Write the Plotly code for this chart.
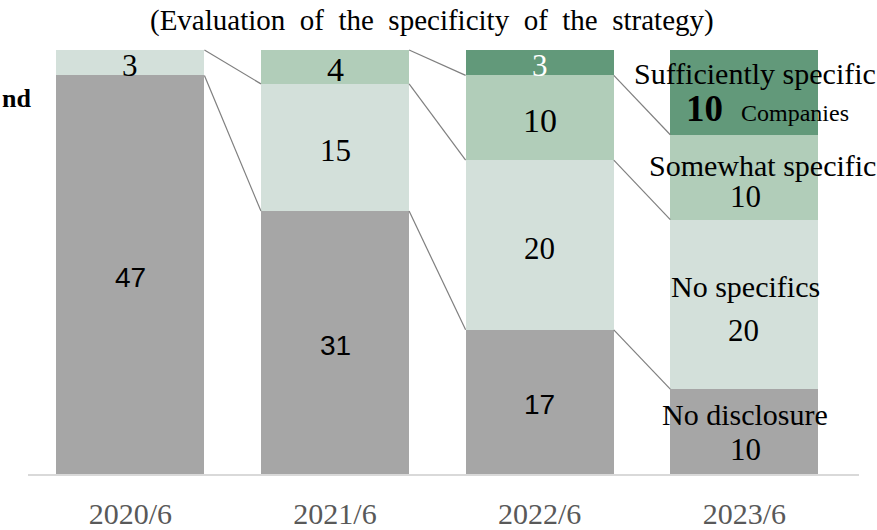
import plotly.graph_objects as go

categories = ["2020/6", "2021/6", "2022/6", "2023/6"]
series_names = ["No disclosure", "No specifics", "Somewhat specific", "Sufficiently specific"]
no_disclosure = [47, 31, 17, 10]
no_specifics = [3, 15, 20, 20]
somewhat_specific = [0, 4, 10, 10]
sufficiently_specific = [0, 0, 3, 10]
unit_text = "Companies"
title_text = "(Evaluation\u00a0 of\u00a0 the\u00a0 specificity\u00a0 of\u00a0 the\u00a0 strategy)"
side_text = "nd"

series_values = [no_disclosure, no_specifics, somewhat_specific, sufficiently_specific]
colors = ["#a6a6a6", "#d3e0da", "#b1cdb9", "#62997a"]
label_colors = ["black", "black", "black", "white"]
SERIF = "Liberation Serif, Times New Roman, serif"
SANS = "Liberation Sans, Arial, sans-serif"
BW = 0.724

x = list(range(len(categories)))
fig = go.Figure()
for name, vals, col in zip(series_names, series_values, colors):
    fig.add_trace(go.Bar(x=x, y=vals, name=name, marker=dict(color=col, line=dict(width=0)),
                         width=BW, hoverinfo="y+name"))

# cumulative tops
cum = []
run = [0] * len(categories)
for vals in series_values:
    run = [r + v for r, v in zip(run, vals)]
    cum.append(list(run))

# series connector lines
for s in range(3):
    vals = series_values[s]
    for i in range(len(categories) - 1):
        if vals[i] > 0 and vals[i + 1] > 0:
            fig.add_trace(go.Scatter(x=[i + BW / 2, i + 1 - BW / 2], y=[cum[s][i], cum[s][i + 1]],
                                     mode="lines", line=dict(color="#7f7f7f", width=1.2),
                                     hoverinfo="skip", showlegend=False))

annotations = []
last = len(categories) - 1
for s, vals in enumerate(series_values):
    for i, v in enumerate(vals):
        if v <= 0 or i == last:
            continue
        mid = cum[s][i] - v / 2
        if s == 0:
            f = dict(family=SANS, size=28, color=label_colors[s])
        else:
            big = (s == 2)
            f = dict(family=SERIF, size=34 if big else 31, color=label_colors[s])
        annotations.append(dict(x=i, y=mid, text=str(v), showarrow=False, yshift=-3, font=f))

# last bar: names and values, with per-label pixel offsets (xshift, yshift)
name_off = [(1, 17), (1, 18), (18, 12), (11, 19)]
val_off = [(1, -18), (-1, -26), (1, -19), (23, -16)]
for s in range(4):
    v = series_values[s][last]
    mid = cum[s][last] - v / 2
    annotations.append(dict(x=last, y=mid, text=series_names[s], showarrow=False,
                            xshift=name_off[s][0], yshift=name_off[s][1],
                            font=dict(family=SERIF, size=30, color="black")))
    if s == 3:
        vt = f"<b style='font-size:37px'>{v}</b>\u00a0\u00a0 {unit_text}"
        vf = dict(family=SERIF, size=24, color="black")
    else:
        vt = str(v)
        vf = dict(family=SERIF, size=31, color="black")
    annotations.append(dict(x=last, y=mid, text=vt, showarrow=False,
                            xshift=val_off[s][0], yshift=val_off[s][1], font=vf))

annotations.append(dict(xref="paper", yref="paper", x=0.0, y=0.852, xanchor="left",
                        yanchor="middle", text=f"<b>{side_text}</b>", showarrow=False,
                        xshift=-28, font=dict(family=SERIF, size=26, color="black")))
annotations.append(dict(xref="paper", yref="paper", x=0.486, y=1.029, xanchor="center",
                        yanchor="middle", text=title_text, showarrow=False,
                        font=dict(family=SERIF, size=29, color="black")))

fig.update_layout(
    barmode="stack",
    width=877, height=530,
    margin=dict(l=28, r=18, t=33, b=56, autoexpand=False),
    paper_bgcolor="white", plot_bgcolor="white",
    showlegend=False,
    annotations=annotations,
    xaxis=dict(range=[-0.5, 3.56], tickvals=x, ticktext=categories, showgrid=False,
               zeroline=False, showline=True, linecolor="#d9d9d9", linewidth=2,
               ticks="", ticklabelstandoff=12, automargin=False,
               tickfont=dict(family=SERIF, size=30, color="#595959")),
    yaxis=dict(range=[0, 52], visible=False, showgrid=False, zeroline=False, automargin=False),
)
fig.write_html("out.html", config={"displayModeBar": False},
               post_script="document.body.style.margin='0';document.body.style.overflow='hidden';")
